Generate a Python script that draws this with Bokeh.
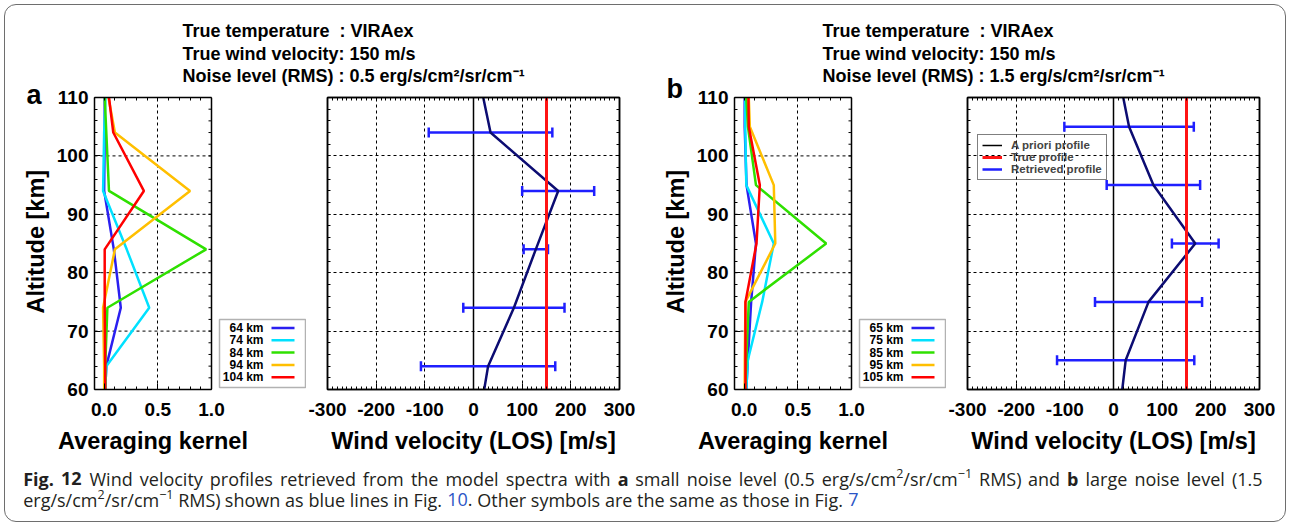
import re
import numpy as np
from bokeh.plotting import figure
from bokeh.models import (Range1d, FixedTicker, LinearAxis, Label, Legend,
                          LegendItem, BoxAnnotation, Arrow, Span)
from bokeh.layouts import column, row
from bokeh.embed import file_html
from bokeh.resources import INLINE

# ------------------------------------------------------------------ data
# panel a : averaging kernels (x) versus altitude (km)
kernel_alt_a = [60, 64, 74, 84, 94, 104, 110]
kernel_a_64 = [0.01, 0.02, 0.155, 0.09, 0.0, 0.005, 0.005]
kernel_a_74 = [0.01, 0.02, 0.42, 0.21, -0.01, 0.0, 0.013]
kernel_a_84 = [0.01, 0.01, 0.03, 0.95, 0.045, 0.02, 0.005]
kernel_a_94 = [0.0, 0.0, -0.01, 0.10, 0.80, 0.10, 0.04]
kernel_a_104 = [0.01, 0.01, 0.005, 0.005, 0.37, 0.085, 0.045]
kernel_labels_a = ["64 km", "74 km", "84 km", "94 km", "104 km"]

# panel b
kernel_alt_b = [60, 65, 75, 85, 95, 105, 110]
kernel_b_65 = [0.02, 0.034, 0.065, 0.11, 0.022, 0.005, 0.005]
kernel_b_75 = [0.02, 0.034, 0.168, 0.276, 0.02, 0.01, 0.01]
kernel_b_85 = [0.01, 0.02, 0.043, 0.764, 0.11, 0.035, 0.02]
kernel_b_95 = [0.005, 0.006, 0.012, 0.29, 0.276, 0.053, 0.043]
kernel_b_105 = [0.012, 0.012, 0.012, 0.115, 0.146, 0.043, 0.04]
kernel_labels_b = ["65 km", "75 km", "85 km", "95 km", "105 km"]

# wind retrievals (m/s)
wind_line_alt_a = [60, 64, 74, 84, 94, 104, 110]
wind_line_a = [22, 30, 83, 128, 174, 35, 20]
wind_bar_alt_a = [64, 74, 84, 94, 104]
wind_ret_a = [30, 83, 128, 174, 35]
wind_err_a = [138, 104, 25, 74, 127]

wind_line_alt_b = [60, 65, 75, 85, 95, 105, 110]
wind_line_b = [18, 25, 72, 168, 82, 32, 20]
wind_bar_alt_b = [65, 75, 85, 95, 105]
wind_ret_b = [25, 72, 168, 82, 32]
wind_err_b = [141, 110, 48, 96, 133]

profile_alt_ends = [60, 110]
apriori_wind = [0, 0]
true_wind = [150, 150]

# ticks / labels
alt_ticks = [60, 70, 80, 90, 100, 110]
alt_tick_labels = ["60", "70", "80", "90", "100", "110"]
alt_minor = list(range(60, 111, 2))
alt_grid = [70, 80, 90, 100]
kernel_ticks = [0, 0.5, 1]
kernel_tick_labels = ["0.0", "0.5", "1.0"]
kernel_minor = [round(0.1 * i, 1) for i in range(11)]
kernel_grid = [0.5]
wind_ticks = [-300, -200, -100, 0, 100, 200, 300]
wind_tick_labels = ["-300", "-200", "-100", "0", "100", "200", "300"]
wind_minor = list(range(-300, 301, 10))
wind_grid = [-200, -100, 100, 200]

header_a = ["True temperature\u00a0 : VIRAex", "True wind velocity: 150 m/s",
            "Noise level (RMS) : 0.5 erg/s/cm\u00b2/sr/cm\u207b\u00b9"]
header_b = ["True temperature\u00a0 : VIRAex", "True wind velocity: 150 m/s",
            "Noise level (RMS) : 1.5 erg/s/cm\u00b2/sr/cm\u207b\u00b9"]
legend_wind = ["A priori profile", "True profile", "Retrieved profile"]
x_titles = ["Averaging kernel", "Wind velocity (LOS) [m/s]"]
y_title = "Altitude [km]"

DARK = "#231f20"
LINK = "#2b55c6"
# caption runs: text, kind, colour, anchored x (None = follows previous run)
caption_line1 = [
    ("Fig. 12", "bold", DARK, 22.7),
    ("Wind velocity profiles retrieved from the model spectra with ", "normal", DARK, 89),
    ("a", "bold", DARK, None),
    (" small noise level (0.5 erg/s/cm", "normal", DARK, None),
    ("2", "sup", DARK, None),
    ("/sr/cm", "normal", DARK, None),
    ("\u22121", "sup", DARK, None),
    (" RMS) and ", "normal", DARK, None),
    ("b", "bold", DARK, None),
    (" large noise level (1.5", "normal", DARK, None),
]
caption_line2 = [
    ("erg/s/cm", "normal", DARK, 22.7),
    ("2", "sup", DARK, None),
    ("/sr/cm", "normal", DARK, None),
    ("\u22121", "sup", DARK, None),
    (" RMS) shown as blue lines in Fig. ", "normal", DARK, None),
    ("10", "normal", LINK, None),
    (". Other symbols are the same as those in Fig. ", "normal", DARK, None),
    ("7", "normal", LINK, None),
]
LINE1_RIGHT = 1262      # first caption line is justified to this edge

# ------------------------------------------------------------------ style / geometry
FONT = "Liberation Sans"
CAP_FONT = "Open Sans"
KCOLORS = ["#2a1ff0", "#00e1ff", "#2fe000", "#ffbf00", "#ff0000"]
ERR_BLUE = "#1f1fff"
NAVY = "#0c0c72"
TRUE_RED = "#ff1414"

TOTAL_W, TOTAL_H = 1290, 526
HEADER_BOTTOM = 86
FRAME_TOP, FRAME_H = 97, 292
FRAME_BOTTOM = FRAME_TOP + FRAME_H
ROW_BOTTOM = 425
K_FRAME_W, W_FRAME_W = 117, 292
K_EXT_W = 212                   # kernel frame incl. legend area
KX = (-0.09, 1.0)
KX_EXT = (KX[0], KX[0] + K_EXT_W * (KX[1] - KX[0]) / K_FRAME_W)
WX = (-300.0, 300.0)
ALT = (60.0, 110.0)
STRIP_W = 52

# approximate Open Sans advance widths (em) used to lay caption runs side by side
OS_REG = {' ': .26, 'a': .556, 'b': .613, 'c': .476, 'd': .613, 'e': .561, 'f': .339,
          'g': .548, 'h': .614, 'i': .253, 'l': .253, 'm': .930, 'n': .614, 'o': .604,
          'p': .613, 'r': .408, 's': .477, 't': .353, 'u': .614, 'v': .501, 'w': .778,
          'y': .501, 'F': .539, 'O': .781, 'R': .618, 'M': .88, 'S': .544, 'W': .925,
          '.': .266, '(': .291, ')': .291, '/': .367, '\u2212': .572, '0': .572,
          '1': .572, '2': .572, '5': .572, '7': .572}
OS_BOLD = {' ': .26, 'a': .59, 'b': .637, 'F': .569, 'i': .286, 'g': .562, '.': .293,
           '1': .572, '2': .572}
CAP_SIZE, SUP_SIZE = 18, 12.5


def run_width(text, kind):
    table = OS_BOLD if kind == "bold" else OS_REG
    size = SUP_SIZE if kind == "sup" else CAP_SIZE
    return sum(table.get(ch, .55) for ch in text) * size


def to_alt(py):
    return ALT[1] - (py - FRAME_TOP) * (ALT[1] - ALT[0]) / FRAME_H


def to_kx(px, fl):
    return KX[0] + (px - fl) * (KX[1] - KX[0]) / K_FRAME_W


def style_axis(ax, ticks, minor, labels=None):
    ax.ticker = FixedTicker(ticks=list(ticks), minor_ticks=list(minor))
    ax.major_tick_in = 6
    ax.major_tick_out = 0
    ax.minor_tick_in = 3
    ax.minor_tick_out = 0
    ax.major_tick_line_color = "black"
    ax.minor_tick_line_color = "black"
    ax.axis_line_color = "black"
    ax.axis_line_width = 1.5
    if labels is not None:
        ax.major_label_overrides = dict(zip(ticks, labels))
        ax.major_label_text_font = FONT
        ax.major_label_text_font_style = "bold"
        ax.major_label_text_font_size = "19px"
        ax.major_label_text_color = "black"


def base_fig(frame_left, fig_left, fig_right, frame_w, xr):
    p = figure(frame_width=frame_w, frame_height=FRAME_H,
               min_border_left=frame_left - fig_left,
               min_border_right=fig_right - frame_left - frame_w,
               min_border_top=FRAME_TOP - HEADER_BOTTOM,
               min_border_bottom=ROW_BOTTOM - FRAME_BOTTOM,
               x_range=Range1d(*xr), y_range=Range1d(*ALT),
               output_backend="svg", toolbar_location=None, tools="",
               background_fill_color=None, border_fill_color=None)
    p.outline_line_color = None
    return p


def dotted(g):
    g.grid_line_color = "black"
    g.grid_line_width = 1
    g.grid_line_dash = "3 3"


# kernel legend geometry relative to kernel frame left (page px)
KL_BOX = (125.0, 211.0, 319.0, 387.0)   # left, right offsets ; top, bottom
KL_TEXT_R = 169.0
KL_LINE = (177.0, 200.0)
KL_ROW0, KL_DROW = 327.5, 12.3


def make_kernel(alts, curves, labels, frame_left, fig_left, fig_right):
    p = base_fig(frame_left, fig_left, fig_right, K_EXT_W, KX_EXT)
    bx = p.below[0]
    style_axis(bx, kernel_ticks, kernel_minor, kernel_tick_labels)
    bx.bounds = KX
    bx.major_label_standoff = 13
    ly = p.left[0]
    style_axis(ly, alt_ticks, alt_minor, alt_tick_labels)
    ly.major_label_standoff = 6
    top = LinearAxis()
    style_axis(top, [], kernel_minor)
    top.bounds = KX
    p.add_layout(top, "above")
    # right edge of the kernel box with its inward ticks
    p.add_layout(Span(location=KX[1], dimension="height", line_color="black",
                      line_width=1.5))
    tick_len = 3 * (KX[1] - KX[0]) / K_FRAME_W
    p.segment(x0=[KX[1]] * len(alt_minor), y0=alt_minor,
              x1=[KX[1] - tick_len] * len(alt_minor), y1=alt_minor,
              line_color="black", line_width=1)
    # grid
    p.xgrid.ticker = FixedTicker(ticks=kernel_grid)
    dotted(p.xgrid)
    p.ygrid.visible = False
    p.segment(x0=[KX[0]] * len(alt_grid), y0=alt_grid, x1=[KX[1]] * len(alt_grid),
              y1=alt_grid, line_color="black", line_width=1, line_dash="3 3")
    for vals, col in zip(curves, KCOLORS):
        p.line(vals, alts, line_color=col, line_width=2.5)
    # legend (label text, then colour swatch)
    p.add_layout(BoxAnnotation(left=to_kx(frame_left + KL_BOX[0], frame_left),
                               right=to_kx(frame_left + KL_BOX[1], frame_left),
                               top=to_alt(KL_BOX[2]), bottom=to_alt(KL_BOX[3]),
                               fill_color=None, fill_alpha=0, line_color="black",
                               line_width=1.5, level="overlay"))
    for i, (lab, col) in enumerate(zip(labels, KCOLORS)):
        yy = to_alt(KL_ROW0 + i * KL_DROW)
        p.add_layout(Label(x=to_kx(frame_left + KL_TEXT_R, frame_left), y=yy, text=lab,
                           text_font=FONT, text_font_style="bold",
                           text_font_size="12px", text_align="right",
                           text_baseline="middle", text_color="black"))
        p.add_layout(Arrow(start=None, end=None,
                           x_start=to_kx(frame_left + KL_LINE[0], frame_left), y_start=yy,
                           x_end=to_kx(frame_left + KL_LINE[1], frame_left), y_end=yy,
                           line_color=col, line_width=2.5))
    return p


def make_wind(line_alt, line_vals, bar_alt, bar_vals, bar_err, frame_left, fig_left,
              fig_right, show_legend):
    p = base_fig(frame_left, fig_left, fig_right, W_FRAME_W, WX)
    p.outline_line_color = "black"
    p.outline_line_width = 1.5
    bx = p.below[0]
    style_axis(bx, wind_ticks, wind_minor, wind_tick_labels)
    bx.major_label_standoff = 13
    style_axis(p.left[0], [], alt_minor)
    top = LinearAxis()
    style_axis(top, [], wind_minor)
    p.add_layout(top, "above")
    rgt = LinearAxis()
    style_axis(rgt, [], alt_minor)
    p.add_layout(rgt, "right")
    p.xgrid.ticker = FixedTicker(ticks=wind_grid)
    p.ygrid.ticker = FixedTicker(ticks=alt_grid)
    dotted(p.xgrid)
    dotted(p.ygrid)
    r_apr = p.line(apriori_wind, profile_alt_ends, line_color="black", line_width=1.5)
    lo = np.array(bar_vals) - np.array(bar_err)
    hi = np.array(bar_vals) + np.array(bar_err)
    r_ret = p.segment(x0=lo, y0=bar_alt, x1=hi, y1=bar_alt, line_color=ERR_BLUE,
                      line_width=2.5)
    p.scatter(x=np.concatenate([lo, hi]), y=list(bar_alt) * 2, marker="dash",
              angle=np.pi / 2, size=10, line_color=ERR_BLUE, line_width=2.5)
    p.line(line_vals, line_alt, line_color=NAVY, line_width=2.5)
    r_true = p.line(true_wind, profile_alt_ends, line_color=TRUE_RED, line_width=3)
    if show_legend:
        leg = Legend(items=[LegendItem(label=legend_wind[0], renderers=[r_apr]),
                            LegendItem(label=legend_wind[1], renderers=[r_true]),
                            LegendItem(label=legend_wind[2], renderers=[r_ret])],
                     location=(10, 209))
        leg.label_text_font = FONT
        leg.label_text_font_style = "bold"
        leg.label_text_font_size = "11.5px"
        leg.glyph_width = 20
        leg.glyph_height = 10
        leg.label_height = 10
        leg.label_standoff = 9
        leg.spacing = 0
        leg.padding = 4
        leg.margin = 0
        leg.border_line_color = "black"
        leg.border_line_width = 1.5
        leg.background_fill_alpha = 0
        p.add_layout(leg)
    return p


def text_fig(width, height):
    f = figure(width=width, height=height, x_range=Range1d(0, width),
               y_range=Range1d(height, 0), x_axis_type=None, y_axis_type=None,
               output_backend="svg", toolbar_location=None, tools="", min_border=0,
               background_fill_color=None, border_fill_color=None)
    f.outline_line_color = None
    return f


def make_strip(letter, letter_mid):
    s = text_fig(STRIP_W, ROW_BOTTOM)
    s.add_layout(Label(x=26, y=letter_mid, text=letter, text_font=FONT,
                       text_font_style="bold", text_font_size="27px",
                       text_baseline="middle", text_align="left", text_color="black"))
    s.add_layout(Label(x=35, y=313, text=y_title, angle=np.pi / 2, text_font=FONT,
                       text_font_style="bold", text_font_size="23.5px",
                       text_baseline="middle", text_align="left", text_color="black"))
    return s


def make_header(lines, width):
    h = text_fig(width, HEADER_BOTTOM)
    for i, t in enumerate(lines):
        h.add_layout(Label(x=130, y=30.5 + 22.5 * i, text=t, text_font=FONT,
                           text_font_style="bold", text_font_size="18px",
                           text_baseline="middle", text_align="left",
                           text_color="black"))
    return h


# ------------------------------------------------------------------ panels
sa = make_strip("a", 94)
ha = make_header(header_a, 640 - STRIP_W)
ka = make_kernel(kernel_alt_a, [kernel_a_64, kernel_a_74, kernel_a_84, kernel_a_94, kernel_a_104],
                 kernel_labels_a, frame_left=94, fig_left=52, fig_right=306)
wa = make_wind(wind_line_alt_a, wind_line_a, wind_bar_alt_a, wind_ret_a, wind_err_a,
               frame_left=327, fig_left=306, fig_right=640, show_legend=False)
sb = make_strip("b", 88)
hb = make_header(header_b, TOTAL_W - 640 - STRIP_W)
kb = make_kernel(kernel_alt_b, [kernel_b_65, kernel_b_75, kernel_b_85, kernel_b_95, kernel_b_105],
                 kernel_labels_b, frame_left=734, fig_left=692, fig_right=946)
wb = make_wind(wind_line_alt_b, wind_line_b, wind_bar_alt_b, wind_ret_b, wind_err_b,
               frame_left=967, fig_left=946, fig_right=TOTAL_W, show_legend=True)

# axis titles + caption
bot = text_fig(TOTAL_W, TOTAL_H - ROW_BOTTOM)
for xc, t in ((152.5, x_titles[0]), (473, x_titles[1]),
              (792.5, x_titles[0]), (1113, x_titles[1])):
    bot.add_layout(Label(x=xc, y=440 - ROW_BOTTOM, text=t, text_font=FONT,
                         text_font_style="bold", text_font_size="23.5px",
                         text_baseline="middle", text_align="center",
                         text_color="black"))


def lay_caption_line(runs, ymid, right_edge=None):
    # natural layout from the last anchor, to find the justification extra
    extra = 0.0
    if right_edge is not None:
        x, n_sp = 0.0, 0
        for text, kind, colr, anchor in runs:
            if anchor is not None:
                x, n_sp = anchor, 0
            x += run_width(text, kind)
            n_sp += text.count(" ")
        if n_sp:
            extra = (right_edge - x) / n_sp
    x = 0.0
    for text, kind, colr, anchor in runs:
        if anchor is not None:
            x = anchor
        is_sup = kind == "sup"
        for tok in re.split(r"( )", text):
            if tok == "":
                continue
            if tok == " ":
                x += run_width(" ", "normal") + extra
                continue
            bot.add_layout(Label(x=x, y=ymid - ROW_BOTTOM - (5 if is_sup else 0),
                                 text=tok, text_font=CAP_FONT,
                                 text_font_style="bold" if kind == "bold" else "normal",
                                 text_font_size="%gpx" % (SUP_SIZE if is_sup else CAP_SIZE),
                                 text_baseline="middle", text_align="left",
                                 text_color=colr))
            x += run_width(tok, kind)


lay_caption_line(caption_line1, 478, LINE1_RIGHT)
lay_caption_line(caption_line2, 499)

FRAME_CSS = ("outline: 1.5px solid #6e6e6e; outline-offset: -5px; "
             "border-radius: 16px; background: white;")
layout = column(row(row(sa, column(ha, row(ka, wa))), row(sb, column(hb, row(kb, wb)))),
                bot,
                styles={"outline": "1.5px solid #6e6e6e", "outline-offset": "-5px",
                        "border-radius": "16px", "background-color": "white"},
                stylesheets=[":host { %s }" % FRAME_CSS])

open("out.html", "w").write(file_html(layout, INLINE, title="Fig. 12"))
